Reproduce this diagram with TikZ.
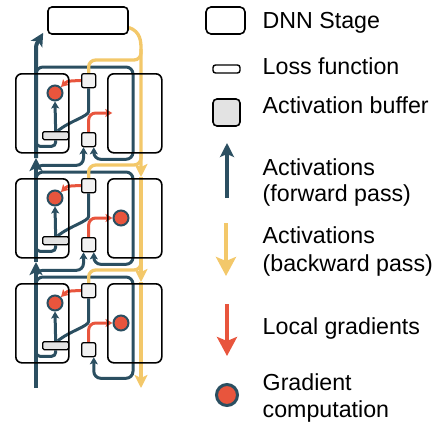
\documentclass[tikz,border=0pt]{standalone}
\usepackage{fontspec}
\setmainfont{Liberation Sans}
\usetikzlibrary{arrows.meta}
\pgfdeclarelayer{wires}
\pgfsetlayers{wires,main}
\definecolor{fwdblue}{HTML}{2B4F61}
\definecolor{bwdyellow}{HTML}{F3C86A}
\definecolor{gradred}{HTML}{E8553D}
\definecolor{bufgray}{HTML}{E3E3E3}
\tikzset{
  stage/.style={draw,line width=1.6pt,rounded corners=6pt,minimum width=53pt,minimum height=79pt,inner sep=0pt},
  lossbox/.style={draw,line width=1.6pt,rounded corners=4pt,inner sep=0pt},
  abuf/.style={draw,line width=1.3pt,fill=bufgray!45,rounded corners=2pt,minimum size=14pt,inner sep=0pt},
  abar/.style={draw,line width=1.3pt,fill=bufgray,rounded corners=1.5pt,minimum width=26pt,minimum height=8pt,inner sep=0pt},
  gcomp/.style={circle,draw=fwdblue,line width=2pt,fill=gradred,minimum size=15pt,inner sep=0pt},
  fwd/.style={draw=fwdblue,line width=3pt,rounded corners=7pt},
  bwd/.style={draw=bwdyellow,line width=3.3pt,rounded corners=7pt},
  grd/.style={draw=gradred,line width=3pt,rounded corners=7pt},
  bigtip/.style={-{Stealth[length=13pt,width=13pt,inset=3pt]}},
  smalltip/.style={-{Stealth[length=7pt,width=8pt,inset=1.5pt]}},
  keytxt/.style={anchor=base west,inner sep=0pt,font=\fontsize{23.2}{27}\selectfont},
}
\begin{document}
\begin{tikzpicture}[x=1pt,y=-1pt]
\useasboundingbox (0,0) rectangle (435,423);
% pipeline of three stages
\node[lossbox,minimum width=80pt,minimum height=27pt] (lossfn) at (88,20.5) {};
\coordinate (fin) at (36,388);
\coordinate (fmid2) at (36,262);
\coordinate (fmid1) at (36,158);
\coordinate (bmid1) at (141,177);
\coordinate (bmid2) at (141,282);
\coordinate (bout) at (141,388);
\node[inner sep=0pt] (gr1) at (113,113) {};
\node[gcomp] (gr2) at (121,218) {};
\node[gcomp] (gr3) at (121,323) {};
\foreach \r/\T/\L in {1/73/12pt,2/178/12pt,3/283/21pt}{
  \node[stage,anchor=north west] (sl\r) at (15,\T) {};
  \node[stage,anchor=north west,minimum width=54pt] (sr\r) at (107,\T) {};
  \node[abuf,anchor=north west] (bu\r) at (81,\T) {};
  \node[abuf,anchor=north west] (bd\r) at (81,\T+59) {};
  \node[abar,anchor=north west] (bar\r) at (42,\T+58) {};
  \node[gcomp] (gl\r) at (55,\T+20) {};
  \coordinate (loop\r) at (36,\T+3);
  \coordinate (next\r) at (36,\T+98);
  \coordinate (back\r) at (141,\T-24);
  \begin{pgfonlayer}{wires}
  \draw[fwd,smalltip] (bar\r.north) -- (gl\r.south);
  \draw[fwd] ([xshift=2pt]bar\r.north) .. controls +(12,-10) and +(0,12) .. ([yshift=-16pt]bu\r.south) -- (bu\r.south);
  \draw[fwd,rounded corners=4pt] (bar\r.south -| fin) |- ([yshift=-6pt]bar\r.south) -- (bar\r.south);
  \draw[fwd,smalltip] (loop\r) |- (133,\T-6) |- ([xshift=-2.5pt,yshift=-\L]bd\r.south east) -- ([xshift=-2.5pt]bd\r.south east);
  \ifnum\r<3
    \draw[fwd,smalltip] (next\r) |- ([xshift=2.5pt,yshift=-18pt]bd\r.south west) -- ([xshift=2.5pt]bd\r.south west);
  \fi
  \draw[grd,smalltip] (bu\r.west) .. controls +(-15,0) and +(5,-5) .. (gl\r.north east);
  \draw[grd,smalltip] (bd\r.north) |- (gr\r.west);
  \draw[bwd] (back\r) |- ([yshift=13pt]bu\r.north) -- (bu\r.north);
  \end{pgfonlayer}
}
\begin{pgfonlayer}{wires}
\draw[fwd,line width=4pt,bigtip] (fin) -- (fmid2);
\draw[fwd,line width=4pt,bigtip] (fmid2) -- (fmid1);
\draw[fwd,line width=4pt,bigtip] (fmid1) -- (36,58) .. controls (36,45) .. ([xshift=-4pt,yshift=2pt]lossfn.south west);
\draw[bwd,bigtip] ([yshift=-7pt]lossfn.east) .. controls +(12,4) and +(0,-14) .. (141,56) -- (bmid1);
\draw[bwd,bigtip] (bmid1) -- (bmid2);
\draw[bwd,bigtip] (bmid2) -- (bout);
\end{pgfonlayer}
% key
\node[stage,minimum width=39pt,minimum height=27pt,rounded corners=5pt] (kstage) at (225.5,20.5) {};
\node[keytxt] (tstage) at (262.5,28.3) {DNN Stage};
\node[lossbox,minimum width=27pt,minimum height=8pt,rounded corners=2.5pt,line width=1.4pt] (kloss) at (226.5,69) {};
\node[keytxt] (tloss) at (262.5,74) {Loss function};
\node[abuf,minimum size=27pt,rounded corners=4pt,fill=bufgray,line width=1.6pt] (kbuf) at (226.5,112.5) {};
\node[keytxt] (tbuf) at (262.5,113) {Activation buffer};
\coordinate (kf0) at (227,198);
\coordinate (kf1) at (227,143);
\draw[fwd,line width=3.3pt,-{Stealth[length=14pt,width=14pt,inset=3pt]}] (kf0) -- (kf1);
\node[keytxt] (tfa) at (262.5,175) {Activations};
\node[keytxt] (tfb) at (262.5,201) {(forward pass)};
\coordinate (kb0) at (226,223);
\coordinate (kb1) at (226,276);
\draw[bwd,line width=4pt,-{Stealth[length=19pt,width=20pt,inset=4pt]}] (kb0) -- (kb1);
\node[keytxt] (tba) at (262.5,243) {Activations};
\node[keytxt] (tbb) at (262.5,271) {(backward pass)};
\coordinate (kg0) at (227,304);
\coordinate (kg1) at (227,356);
\draw[grd,line width=4pt,-{Stealth[length=19pt,width=20pt,inset=4pt]}] (kg0) -- (kg1);
\node[keytxt] (tgr) at (262.5,334) {Local gradients};
\node[gcomp,minimum size=21pt,line width=3pt] (kcomp) at (227,395) {};
\node[keytxt] (tca) at (262.5,390) {Gradient};
\node[keytxt] (tcb) at (262.5,417) {computation};
\end{tikzpicture}
\end{document}
